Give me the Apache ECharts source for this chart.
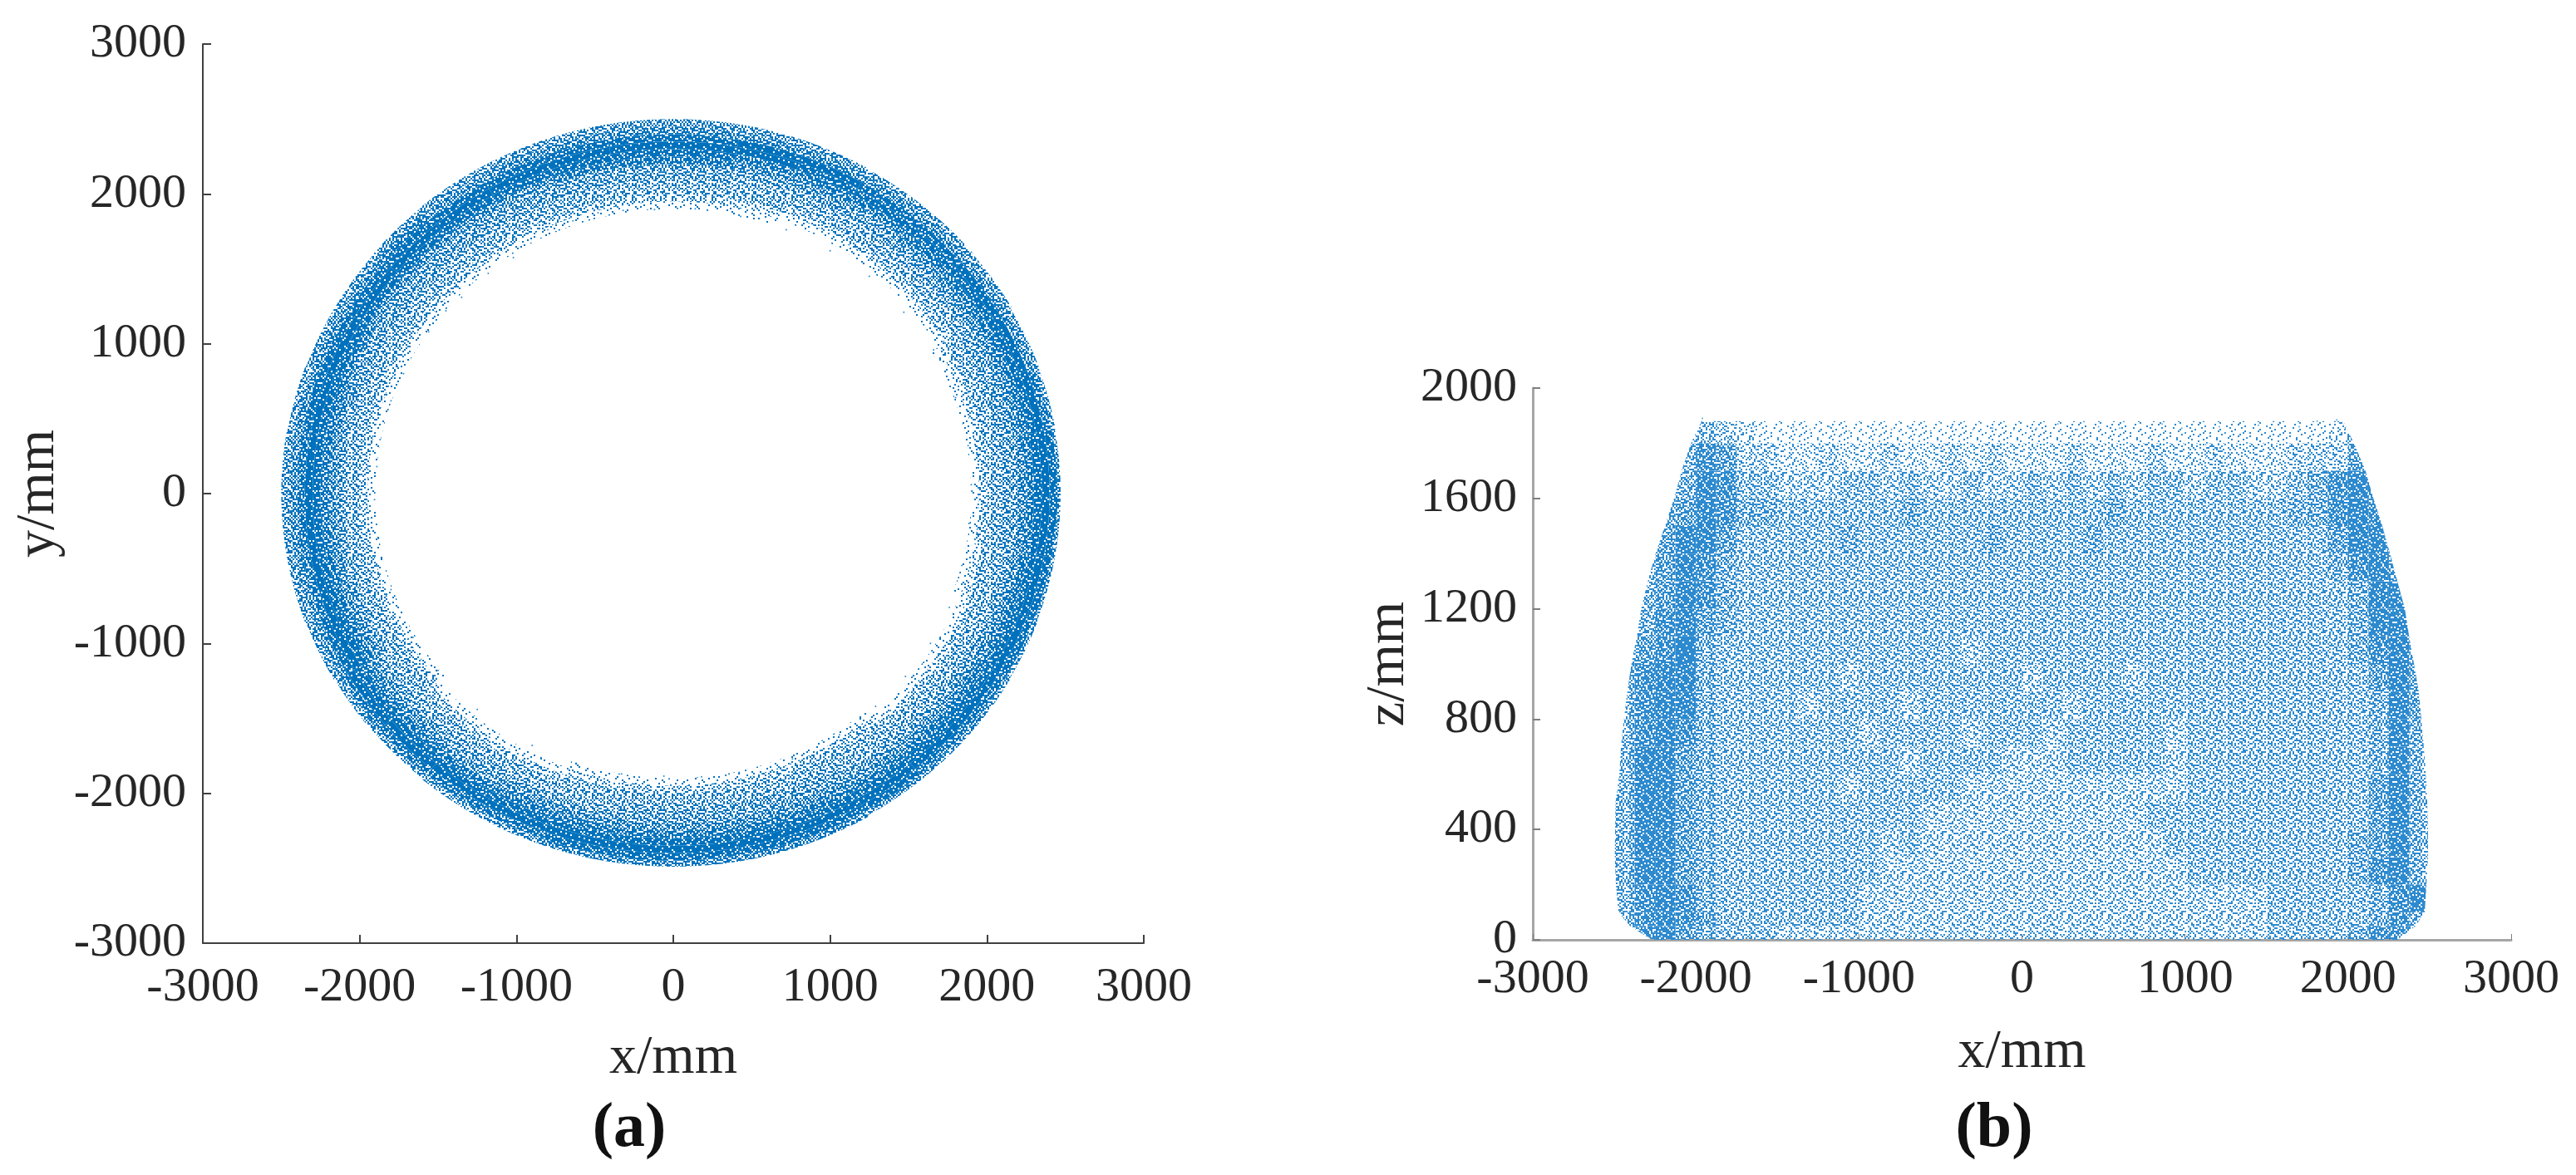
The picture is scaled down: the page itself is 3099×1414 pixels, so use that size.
<!DOCTYPE html>
<html><head><meta charset="utf-8">
<style>html,body{margin:0;padding:0;background:#fff}#c{width:3099px;height:1414px}</style>
<script src="https://cdn.jsdelivr.net/npm/echarts@6/dist/echarts.min.js"></script>
</head><body><div id="c"></div>
<script>
// (a) density: one row per 10 degree sector, one digit per 50 mm radial bin from ringStartR
const ringStartR = 1850, ringStepR = 50, ringStepDeg = 10;
const ringDensity = [
"0134455678985","0134455678975","0124455678965","0013445678965","0013445678865","0013445578865",
"0013445678965","0124445679965","0134455789865","0134455789865","0134455789865","0134455689865",
"0134455689865","0134455689875","0134455689865","0134455789865","0134456789865","0134456789765",
"0134456789765","0134456789765","0134456789865","0134445678975","0013445678975","0013445578975",
"0013445678975","0124445678986","0134455678986","0134455678986","0134455678986","0134455678986",
"0134445678986","0013445678975","0013445678975","0013445678985","0124445678985","0134455678985"];
const ringOuter = [2470,2475,2480,2490,2495,2495,2500,2500,2505,2510,2505,2500,2500,2495,2490,2490,2495,2500,
                   2500,2500,2495,2490,2485,2490,2490,2490,2490,2490,2490,2490,2480,2480,2480,2475,2470,2470];
// (a) isolated points visible on the inner fringe [x, y]
const ringFringe = [[-120,1895],[-320,1890],[-480,1875],[-640,1820],[-800,1760],[-1020,1575],[-1180,1470],
[-1350,1310],[-1450,1220],[-1560,1080],[-1720,800],[-1800,620],[-1870,360],[-1890,180],[-1905,-40],[-1880,-300],
[-1800,-640],[-1660,-960],[-1500,-1180],[-1250,-1440],[-900,-1680],[-620,-1800],[-330,-1870],[-60,-1885],[180,-1890],
[420,-1860],[760,-1770],[1060,-1610],[1290,-1420],[1480,-1220],[1640,-1000],[1760,-760],[1840,-480],[1885,-200],[1900,60],
[1880,320],[1800,640],[1660,960],[1470,1210],[1250,1450],[1000,1620],[720,1760],[430,1850],[140,1900]];
// (b) density: rows from z=0 upward, one digit per 125 mm column from gridStartX
const gridStartX = -2500, gridStepX = 125;
const zLevels = [0,50,100,200,300,400,500,600,700,800,900,1000,1100,1200,1300,1400,1500,1600,1700,1800,1880];
const sideDensity = [
"5786544433333333333333333333333344445775",
"5787644444443333333333333333333344444575",
"5787544444443333333333333333333344444578",
"5886544444444333333333333333444444445785",
"5886544444444343333333333334444444445685",
"5886544444444443333333333344444444444685",
"5886544444434444433333333333444444444685",
"5886544444444434444333444443444444444585",
"5787544444443444434443444443444444444585",
"5788544443444434444444344444444444444586",
"5788544444434444444434444344444444444686",
"5679544444444444434444444444444444445786",
"5578654444444444444444444444444444445885",
"5568754444444444444444444444444444445885",
"5568754444444444444444444444444444457865",
"5568864444454444445444454444444444468865",
"5556875544444454444444445444444445578755",
"5555874433344343343343434344344334578755",
"5555763322322322323222322232232223336655",
"4444432111111111111111111111111111124444"];
const leftEdge = [-2270,-2403,-2475,-2490,-2497,-2495,-2492,-2469,-2459,-2441,-2420,-2395,-2362,-2335,-2295,-2247,-2190,-2133,-2087,-2030,-1965];
const rightEdge = [2302,2413,2470,2480,2490,2490,2485,2477,2464,2449,2433,2404,2374,2348,2302,2257,2210,2155,2107,2036,1970];
// (b) isolated points visible above the top edge [x, z]
const sideFringe = [[-1960,1890],[-1870,1870],[-1760,1865],[-1640,1860],[-1520,1855],[-1400,1860],[-1300,1850],[-1180,1860],
[-1060,1845],[-940,1860],[-800,1850],[-690,1855],[-560,1845],[-430,1860],[-300,1850],[-180,1855],[-50,1850],[90,1855],[220,1870],
[340,1850],[470,1860],[600,1855],[730,1850],[860,1870],[980,1855],[1090,1875],[1210,1860],[1330,1870],[1450,1865],[1580,1875],[1700,1860],[1810,1880],[1930,1885]];

// Style only: a fixed hand-typed dither fill that turns each density digit into a dot coverage
const ditherTile = [
"739150462817305926481703","260847319562148073916254","518293605174962381540796","947061283709351648027315",
"302758946120873519364802","684135702496015287931640","129570864351729460583176","875342190678432105769283",
"403916527081596837240915","761284039562013498657032","295807613749286150381467","038469251830674925716098",
"647123985206419738052341","512790346875130264989570","986035172493857016243618","340618795124062583791204",
"175942063857346921508736","823407618590271694365092","059261874336958047182465","461783025914620375896107",
"798520346071483912054328","214096857362759108643790","630875192048316827591043","957342608165904256370819"];
const DOT = 2;
function makeFill(d, rgb){
  const n = ditherTile.length, cv = document.createElement('canvas');
  cv.width = cv.height = n*DOT;
  const g = cv.getContext('2d');
  g.fillStyle = rgb;
  ditherTile.forEach((row,y)=>{ [...row].forEach((ch,x)=>{ if(+ch < d) g.fillRect(x*DOT,y*DOT,DOT,DOT); }); });
  return {image:cv, repeat:'repeat'};
}
const fillsA = [], fillsB = [];
for(let d=0;d<=9;d++){ fillsA.push(makeFill(d,'rgb(0,114,189)')); fillsB.push(makeFill(d,'rgb(45,138,207)')); }

const ringCells = [];
ringDensity.forEach((row,i)=>{ [...row].forEach((ch,j)=>{ if(+ch>0) ringCells.push([i,j,+ch]); }); });
const sideCells = [];
sideDensity.forEach((row,k)=>{ [...row].forEach((ch,c)=>{ if(+ch>0) sideCells.push([k,c,+ch]); }); });

function renderRing(params, api){
  const i=api.value(0), j=api.value(1), d=api.value(2);
  const r0=ringStartR+j*ringStepR, r1=Math.min(ringStartR+(j+1)*ringStepR, ringOuter[i]);
  if(r1<=r0) return null;
  const pts=[];
  const arc=(r,from,to)=>{ for(let s=0;s<=4;s++){ const t=(from+(to-from)*s/4)*Math.PI/180; pts.push(api.coord([r*Math.cos(t),r*Math.sin(t)])); } };
  arc(r0,i*ringStepDeg,(i+1)*ringStepDeg); arc(r1,(i+1)*ringStepDeg,i*ringStepDeg);
  return {type:'polygon',shape:{points:pts},style:{fill:fillsA[d],stroke:null}};
}
function renderSide(params, api){
  const k=api.value(0), c=api.value(1), d=api.value(2);
  const x0=gridStartX+c*gridStepX, x1=x0+gridStepX, z0=zLevels[k], z1=zLevels[k+1];
  const clamp=(x,m)=>Math.max(leftEdge[m],Math.min(rightEdge[m],x));
  const a0=clamp(x0,k), a1=clamp(x1,k), b0=clamp(x0,k+1), b1=clamp(x1,k+1);
  if(a0===a1 && b0===b1) return null;
  const pts=[[a0,z0],[a1,z0],[b1,z1],[b0,z1]].map(p=>api.coord(p));
  return {type:'polygon',shape:{points:pts},style:{fill:fillsB[d],stroke:null}};
}

const FONT='"Liberation Serif"', INK='#262626';
const lab=(margin)=>({show:true,fontFamily:FONT,fontSize:58,color:INK,margin:margin,formatter:v=>String(v)});
const chart=echarts.init(document.getElementById('c'),null,{renderer:'canvas'});
chart.setOption({
 animation:false,backgroundColor:'#fff',
 title:[
  {text:'{n|(}{b|a}{n|)}',left:752,top:1316,textAlign:'center',textStyle:{rich:{n:{fontFamily:FONT,fontSize:76,color:'#111'},b:{fontFamily:FONT,fontSize:76,fontWeight:'bold',color:'#111'}}}},
  {text:'{n|(}{b|b}{n|)}',left:2394,top:1316,textAlign:'center',textStyle:{rich:{n:{fontFamily:FONT,fontSize:76,color:'#111'},b:{fontFamily:FONT,fontSize:76,fontWeight:'bold',color:'#111'}}}}
 ],
 grid:[
  {left:244,width:1132,top:53,height:1082},
  {left:1844,width:1177,top:467,height:664}
 ],
 xAxis:[
  {gridIndex:0,type:'value',min:-3000,max:3000,interval:1000,name:'x/mm',nameLocation:'middle',nameGap:106,
   nameTextStyle:{fontFamily:FONT,fontSize:66,color:INK},axisLabel:lab(25),splitLine:{show:false},
   axisLine:{show:true,onZero:false,lineStyle:{color:'#404040',width:2}},axisTick:{show:true,inside:true,length:10,lineStyle:{color:'#404040',width:2}}},
  {gridIndex:1,type:'value',min:-3000,max:3000,interval:1000,name:'x/mm',nameLocation:'middle',nameGap:103,
   nameTextStyle:{fontFamily:FONT,fontSize:66,color:INK},axisLabel:lab(19),splitLine:{show:false},
   axisLine:{show:true,onZero:false,lineStyle:{color:'#a6a6a6',width:3}},axisTick:{show:true,inside:true,length:7,lineStyle:{color:'#7f7f7f',width:1}}}
 ],
 yAxis:[
  {gridIndex:0,type:'value',min:-3000,max:3000,interval:1000,name:'y/mm',nameLocation:'middle',nameGap:164,
   nameTextStyle:{fontFamily:FONT,fontSize:66,color:INK},axisLabel:lab(20),splitLine:{show:false},
   axisLine:{show:true,onZero:false,lineStyle:{color:'#404040',width:2}},axisTick:{show:true,inside:true,length:10,lineStyle:{color:'#404040',width:2}}},
  {gridIndex:1,type:'value',min:0,max:2000,interval:400,name:'z/mm',nameLocation:'middle',nameGap:140,
   nameTextStyle:{fontFamily:FONT,fontSize:66,color:INK},axisLabel:lab(19),splitLine:{show:false},
   axisLine:{show:true,onZero:false,lineStyle:{color:'#a6a6a6',width:3}},axisTick:{show:true,inside:true,length:9,lineStyle:{color:'#7f7f7f',width:2}}}
 ],
 series:[
  {type:'custom',xAxisIndex:0,yAxisIndex:0,renderItem:renderRing,data:ringCells,encode:{x:[],y:[]},silent:true},
  {type:'scatter',xAxisIndex:0,yAxisIndex:0,data:ringFringe,symbolSize:2,itemStyle:{color:'#0072BD',opacity:.8},silent:true},
  {type:'custom',xAxisIndex:1,yAxisIndex:1,renderItem:renderSide,data:sideCells,encode:{x:[],y:[]},silent:true},
  {type:'scatter',xAxisIndex:1,yAxisIndex:1,data:sideFringe,symbolSize:2,itemStyle:{color:'#0072BD',opacity:.6},silent:true}
 ]
});
</script></body></html>
